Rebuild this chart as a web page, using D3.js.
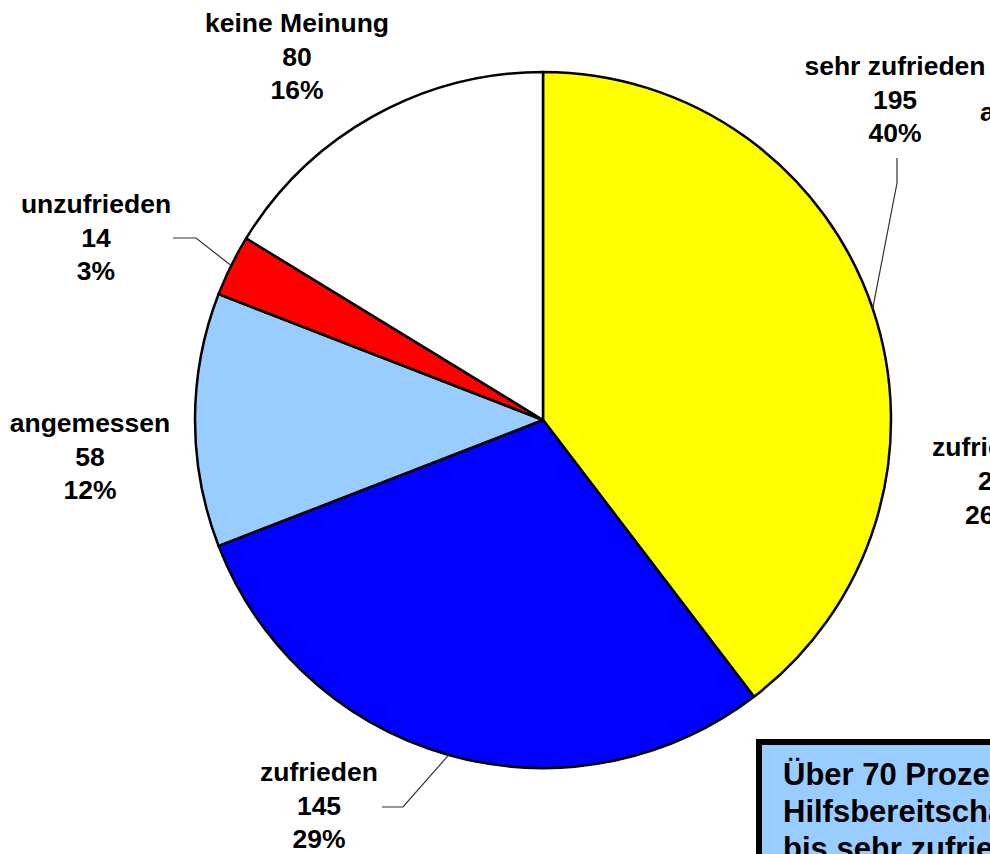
<!DOCTYPE html>
<html lang="de">
<head>
<meta charset="utf-8">
<script src="https://cdn.jsdelivr.net/npm/d3@7"></script>
<style>
  html, body { margin: 0; padding: 0; background: #ffffff; overflow: hidden; }
  svg { display: block; font-family: "Liberation Sans", Arial, sans-serif; font-weight: bold; }
</style>
</head>
<body>
<svg id="chart" width="990" height="854"></svg>
<script>
// Zufriedenheit mit der Hilfsbereitschaft – Anzahl der Antworten
const categories = ["sehr zufrieden", "zufrieden", "angemessen", "unzufrieden", "keine Meinung"];
const counts = [195, 145, 58, 14, 80];
const percentLabels = ["40%", "29%", "12%", "3%", "16%"];
const colors = ["#ffff00", "#0000ff", "#99ccff", "#ff0000", "#ffffff"];

// Hinweistext unten rechts
const noteLines = ["Über 70 Prozent sind mit der", "Hilfsbereitschaft zufrieden", "bis sehr zufrieden"];

// Beschriftungen des angrenzenden Diagramms (rechter Rand)
const sideLabels = [
  { text: "angemessen", x: 980, y: 121 },
  { text: "zufrieden", x: 932, y: 456 },
  { text: "2", x: 978, y: 490 },
  { text: "26%", x: 965, y: 524 }
];

// Lage der Beschriftungen (Mittelpunkt, erste Grundlinie) und Führungslinien
const labelLayout = {
  "sehr zufrieden": { x: 895, y: 75, leader: { elbow: [897, 183], tail: [897, 158] } },
  "zufrieden":      { x: 319, y: 781, leader: { elbow: [403, 807], tail: [382, 807] } },
  "angemessen":     { x: 90,  y: 432 },
  "unzufrieden":    { x: 96,  y: 213, leader: { elbow: [196, 238], tail: [173, 238] } },
  "keine Meinung":  { x: 297, y: 32 }
};

const svg = d3.select("#chart");
const cx = 543, cy = 420, radius = 348;
const lineStep = 33.5;

const data = categories.map((c, i) => ({ name: c, value: counts[i], pct: percentLabels[i], color: colors[i] }));

const pie = d3.pie().value(d => d.value).sort(null).startAngle(0).endAngle(2 * Math.PI);
const arc = d3.arc().innerRadius(0).outerRadius(radius);
const arcs = pie(data);

const g = svg.append("g").attr("transform", `translate(${cx},${cy})`);

g.selectAll("path.slice")
  .data(arcs)
  .enter().append("path")
  .attr("class", "slice")
  .attr("d", arc)
  .attr("fill", d => d.data.color)
  .attr("stroke", "#000")
  .attr("stroke-width", 2.5)
  .attr("stroke-linejoin", "round");

// Führungslinien: vom Rand des Segments (Mittelwinkel) über einen Knick zur Beschriftung
arcs.forEach(a => {
  const lay = labelLayout[a.data.name];
  if (!lay || !lay.leader) return;
  const mid = (a.startAngle + a.endAngle) / 2;
  const px = cx + radius * Math.sin(mid);
  const py = cy - radius * Math.cos(mid);
  svg.append("polyline")
    .attr("points", [[px, py], lay.leader.elbow, lay.leader.tail].map(p => p.join(",")).join(" "))
    .attr("fill", "none")
    .attr("stroke", "#333")
    .attr("stroke-width", 1.2);
});

// Beschriftungen: Kategorie, Anzahl, Prozent
arcs.forEach(a => {
  const lay = labelLayout[a.data.name];
  const t = svg.append("text")
    .attr("x", lay.x)
    .attr("y", lay.y)
    .attr("text-anchor", "middle")
    .attr("font-size", 26.5)
    .attr("fill", "#000");
  [a.data.name, String(a.data.value), a.data.pct].forEach((s, i) => {
    t.append("tspan").attr("x", lay.x).attr("y", lay.y + i * lineStep).text(s);
  });
});

// Randbeschriftungen des Nachbardiagramms
svg.selectAll("text.side")
  .data(sideLabels)
  .enter().append("text")
  .attr("class", "side")
  .attr("x", d => d.x)
  .attr("y", d => d.y)
  .attr("font-size", 26.5)
  .attr("fill", "#000")
  .text(d => d.text);

// Hinweiskasten
const box = svg.append("g");
box.append("rect")
  .attr("x", 759)
  .attr("y", 742)
  .attr("width", 420)
  .attr("height", 180)
  .attr("fill", "#99ccff")
  .attr("stroke", "#000")
  .attr("stroke-width", 6);
box.selectAll("text")
  .data(noteLines)
  .enter().append("text")
  .attr("x", 783)
  .attr("y", (d, i) => 785 + i * 37)
  .attr("font-size", 31)
  .attr("fill", "#000")
  .text(d => d);
</script>
</body>
</html>
